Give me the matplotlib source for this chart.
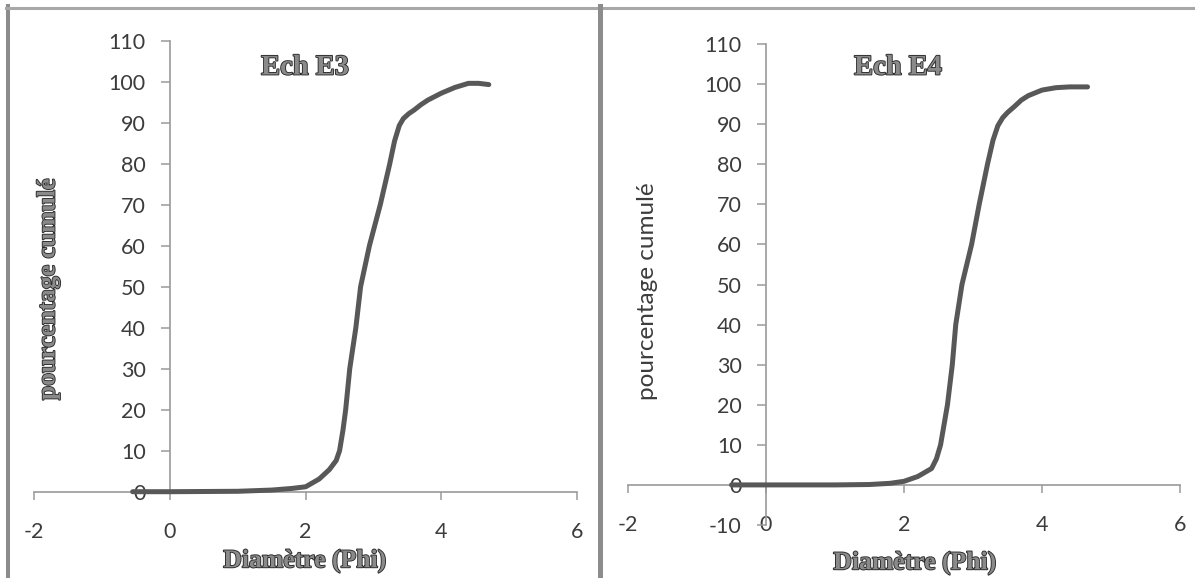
import matplotlib
matplotlib.use("Agg")
import matplotlib.pyplot as plt
import matplotlib.patheffects as pe
from matplotlib.lines import Line2D

plt.rcParams["axes.unicode_minus"] = False

# cumulative curves
phi_e3 = [-0.55, 0.0, 1.0, 1.5, 1.8, 2.0, 2.2, 2.35, 2.45, 2.5, 2.55, 2.59,
          2.65, 2.74, 2.81, 2.94, 3.10, 3.24, 3.31, 3.38, 3.44, 3.52, 3.6,
          3.7, 3.8, 4.0, 4.2, 4.4, 4.55, 4.7]
cum_e3 = [0, 0, 0.1, 0.4, 0.8, 1.2, 3.1, 5.4, 7.6, 10, 15, 20,
          30, 40, 50, 60, 70, 80, 85.5, 89.3, 91.0, 92.2, 93.1,
          94.4, 95.5, 97.2, 98.6, 99.6, 99.6, 99.3]

phi_e4 = [-0.5, 0.0, 1.0, 1.5, 1.8, 2.0, 2.2, 2.4, 2.47, 2.53, 2.63, 2.70,
          2.75, 2.84, 2.98, 3.09, 3.21, 3.29, 3.36, 3.43, 3.5, 3.6, 3.7,
          3.8, 4.0, 4.2, 4.4, 4.66]
cum_e4 = [0, 0, 0, 0.1, 0.4, 0.9, 2.1, 4.1, 6.5, 10, 20, 30,
          40, 50, 60, 70, 80, 86, 89.6, 91.6, 92.9, 94.4, 96.0,
          97.1, 98.5, 99.1, 99.3, 99.3]

x_ticks = [-2, 0, 2, 4, 6]
y_ticks_e3 = list(range(0, 111, 10))
y_ticks_e4 = list(range(-10, 111, 10))

W, H = 1195, 578
fig = plt.figure(figsize=(W / 100, H / 100), dpi=100)

SANS = "Lato"
SERIF = "Liberation Serif"
TXT = "#3c3c3c"
AXC = "#9a9a9a"
LINE = "#585858"
emboss = [pe.withStroke(linewidth=1.3, foreground="#2a2a2a")]


def px_box(x0, x1, y_top, y_bot):
    return [x0 / W, 1 - y_bot / H, (x1 - x0) / W, (y_bot - y_top) / H]


def setup(ax, yticks, spine_low, xpad):
    ax.set_xlim(-2, 6)
    ax.set_ylim(-10, 110)
    for s in ("top", "right"):
        ax.spines[s].set_visible(False)
    ax.spines["bottom"].set_position(("data", 0))
    ax.spines["left"].set_position(("data", 0))
    ax.spines["left"].set_bounds(spine_low, 110)
    for s in ("bottom", "left"):
        ax.spines[s].set_color(AXC)
        ax.spines[s].set_linewidth(1.2)
    ax.set_xticks(x_ticks)
    ax.set_yticks(yticks)
    ax.tick_params(axis="y", direction="out", length=6.5, width=1.1,
                   color=AXC, pad=11, labelsize=15.5, labelcolor=TXT)
    ax.tick_params(axis="x", direction="out", length=6, width=1.1,
                   color=AXC, pad=xpad, labelsize=15.5, labelcolor=TXT)
    for lab in ax.get_xticklabels() + ax.get_yticklabels():
        lab.set_fontfamily(SANS)
    ax.patch.set_alpha(0)


# left panel, Ech E3
ax1 = fig.add_axes(px_box(34.3, 577, 40.7, 532.7))
setup(ax1, y_ticks_e3, 0, 16)
ax1.plot(phi_e3, cum_e3, color=LINE, lw=3.6, solid_joinstyle="round",
         solid_capstyle="round", zorder=3)

# right panel, Ech E4
ax2 = fig.add_axes(px_box(628, 1180, 44, 525))
setup(ax2, y_ticks_e4, -10, 16)
ax2.plot(phi_e4, cum_e4, color=LINE, lw=3.6, solid_joinstyle="round",
         solid_capstyle="round", zorder=3)


# titles and axis labels (figure pixel positions)
def ftxt(x, y, s, **kw):
    fig.text(x / W, 1 - y / H, s, ha="center", va="center", **kw)


serif_kw = dict(family=SERIF, weight="bold", color="#8a8a8a", path_effects=emboss)
ftxt(305, 68, "Ech E3", fontsize=20.5, **serif_kw)
ftxt(898, 68, "Ech E4", fontsize=20.5, **serif_kw)
ftxt(305, 561, "Diamètre (Phi)", fontsize=18.5, **serif_kw)
ftxt(915, 563, "Diamètre (Phi)", fontsize=18.5, **serif_kw)
ftxt(48, 289, "pourcentage cumulé", fontsize=18.5, rotation=90, **serif_kw)
ftxt(647, 291, "pourcentage cumulé", fontsize=17.5, rotation=90,
     family=SANS, color=TXT)


# panel frames
def fline(xs, ys, **kw):
    fig.add_artist(Line2D([x / W for x in xs], [1 - y / H for y in ys],
                          transform=fig.transFigure, **kw))


fline([8, 8], [6, H], color="#8c8c8c", lw=2.9)
fline([6, W], [8, 8], color="#a8a8a8", lw=2.2)
fline([600, 600], [6, H], color="#8c8c8c", lw=3.6)

fig.savefig("out.png", dpi=100)
